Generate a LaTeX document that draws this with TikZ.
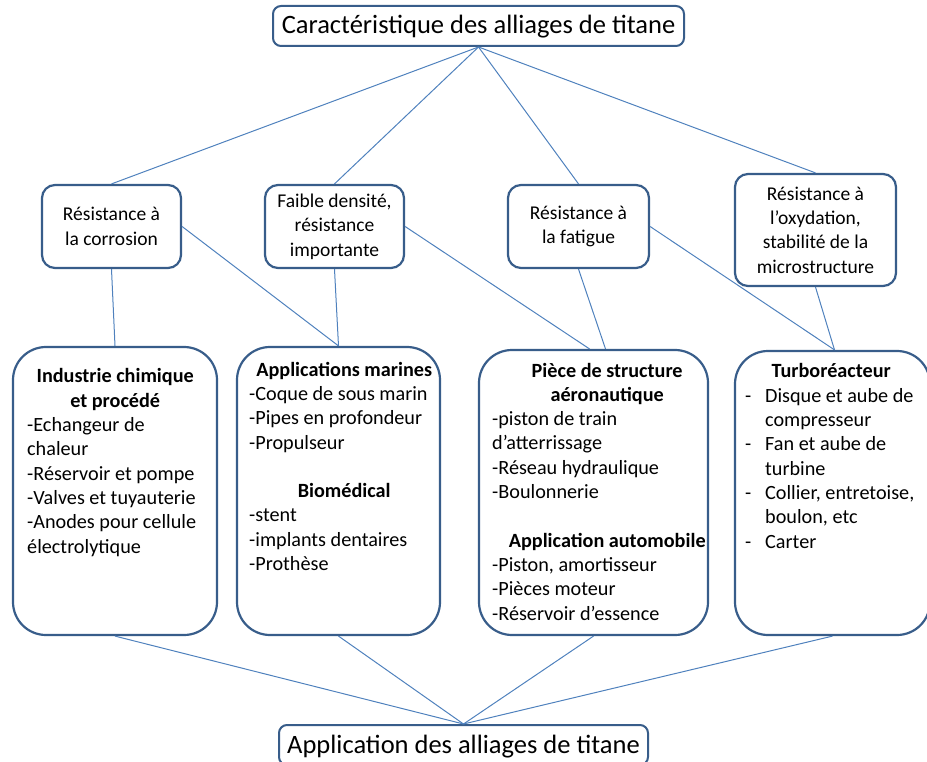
\documentclass[tikz,border=0pt]{standalone}
\usepackage{fontspec}
\setmainfont{Carlito}
\definecolor{boxblue}{HTML}{385D8A}
\definecolor{linkblue}{HTML}{4F81BD}
\newcommand{\tiret}{\makebox[20pt][l]{-}}
\newcommand{\entete}[2]{\makebox[#1][c]{\bfseries #2}}

\begin{document}
\begin{tikzpicture}[x=1pt,y=-1pt,
    titlebox/.style={draw=boxblue, line width=2pt, rounded corners=8pt, fill=white,
        inner sep=0pt, text height=16pt, text depth=0pt, font=\fontsize{26.5}{32}\selectfont},
    midbox/.style={draw=boxblue, line width=2.2pt, rounded corners=13pt, fill=white,
        inner sep=0pt, align=center, font=\fontsize{19.5}{24.4}\selectfont},
    bigbox/.style={draw=boxblue, line width=2.2pt, rounded corners=33pt, fill=white, inner sep=0pt},
    itemtext/.style={anchor=base west, inner sep=0pt, align=left, font=\fontsize{20.2}{24.3}\selectfont},
    link/.style={draw=linkblue, line width=1pt}]
    \useasboundingbox (0,0) rectangle (927,762);
    \clip (0,0) rectangle (927,762);

    % titres
    \begin{scope}[every node/.style={titlebox, minimum height=40pt}]
        \node[minimum width=411pt] (top) at (478.5,26) {Caractéristique des alliages de titane};
        \node[minimum width=369pt] (app) at (463.5,745) {Application des alliages de titane};
    \end{scope}

    % caracteristiques
    \begin{scope}[every node/.style={midbox, minimum height=83pt}]
        \node[minimum width=139pt] (cor) at (111.5,226.5) {Résistance à\\ la corrosion};
        \node[minimum width=139pt] (fai) at (334.5,226.5) {Faible densité,\\ résistance\\ importante};
        \node[minimum width=141pt] (fat) at (578.5,226.5) {Résistance à\\ la fatigue};
        \node[minimum width=161pt, minimum height=112pt] (oxy) at (815.5,230) {Résistance à\\ l’oxydation,\\ stabilité de la\\ microstructure};
    \end{scope}

    % applications
    \begin{scope}[every node/.style={bigbox}]
        \node[minimum width=204pt, minimum height=288pt] (ind) at (115,491) {};
        \node[minimum width=203pt, minimum height=288pt] (mar) at (338.5,491) {};
        \node[minimum width=229pt, minimum height=285pt] (pie) at (593.5,492.5) {};
        \node[minimum width=195pt, minimum height=284pt] (tur) at (832.5,493) {};
    \end{scope}

    % textes des applications (ancre sur la derniere ligne)
    \node[itemtext] (indtxt) at (27,553)
        {\entete{176pt}{Industrie chimique}\\ \entete{176pt}{et procédé}\\
        -Echangeur de\\ chaleur\\ -Réservoir et pompe\\ -Valves et tuyauterie\\
        -Anodes pour cellule\\ électrolytique};
    \node[itemtext] (martxt) at (249,570.5)
        {\entete{190pt}{Applications marines}\\
        -Coque de sous marin\\ -Pipes en profondeur\\ -Propulseur\\[24.3pt]
        \entete{190pt}{Biomédical}\\
        -stent\\ -implants dentaires\\ -Prothèse};
    \node[itemtext] (pietxt) at (492,620)
        {\entete{230pt}{Pièce de structure}\\ \entete{230pt}{aéronautique}\\
        -piston de train\\ d’atterrissage\\ -Réseau hydraulique\\ -Boulonnerie\\[24.3pt]
        \entete{230pt}{Application automobile}\\
        -Piston, amortisseur\\ -Pièces moteur\\ -Réservoir d’essence};
    \node[itemtext] (turtxt) at (745,548)
        {\entete{172pt}{Turboréacteur}\\
        \tiret Disque et aube de\\ \hspace*{20pt}compresseur\\
        \tiret Fan et aube de\\ \hspace*{20pt}turbine\\
        \tiret Collier, entretoise,\\ \hspace*{20pt}boulon, etc\\
        \tiret Carter};

    % liens
    \begin{scope}[every edge/.style={link}]
        \path (top.south) edge (cor.north) edge (fai.north) edge (fat.north) edge (oxy.north);
        \path (cor.south) edge (ind.north)
              (cor.east) edge (mar.north)
              (fai.south) edge (mar.north)
              (fai.east) edge ([xshift=-4pt]pie.north)
              (fat.south) edge ([xshift=12pt]pie.north)
              (fat.east) edge ([xshift=2pt]tur.north)
              (oxy.south) edge ([xshift=2pt]tur.north);
        \path (app.north) edge (ind.south) edge (mar.south) edge (pie.south) edge (tur.south);
    \end{scope}
\end{tikzpicture}
\end{document}
